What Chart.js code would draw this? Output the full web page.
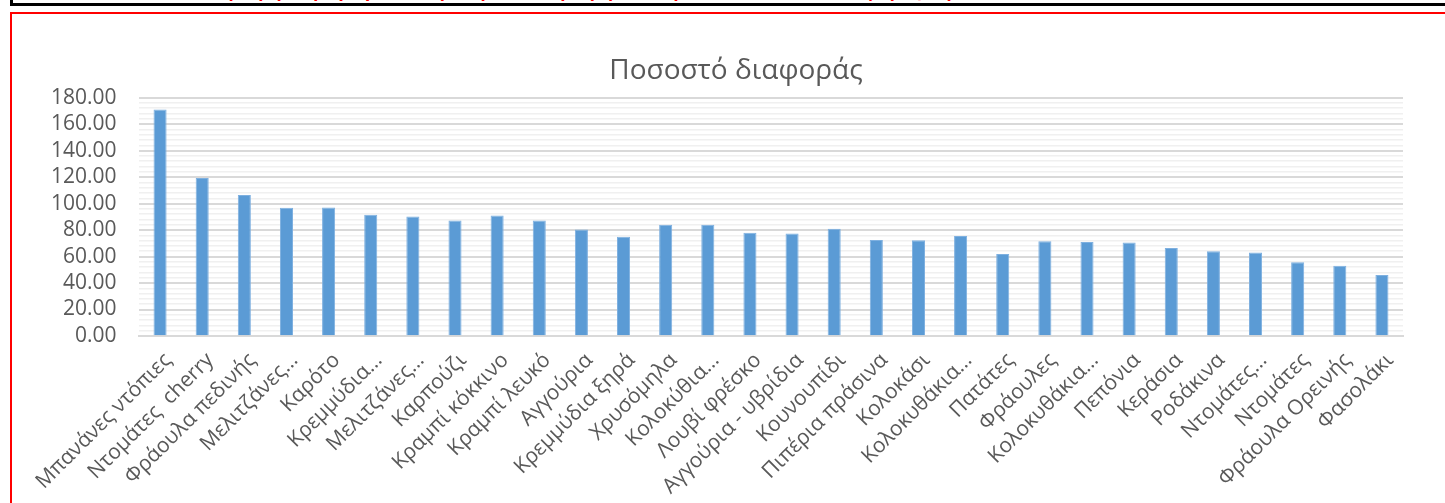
<!DOCTYPE html>
<html>
<head>
<meta charset="utf-8">
<script src="https://cdn.jsdelivr.net/npm/chart.js@4.4.1/dist/chart.umd.min.js"></script>
<style>
  body { margin: 0; background: #fff; overflow: hidden; width: 1445px; height: 503px; position: relative; }
  #topbox { position: absolute; left: 10px; top: -12px; width: 1500px; height: 12px; border: 3px solid #000; overflow: hidden; }
  #topbox span { position: absolute; top: -12.5px; left: 170px; color: #ff0000; font: bold 17px "Open Sans", sans-serif; letter-spacing: 1px; white-space: nowrap; }
  #frame { position: absolute; left: 10px; top: 12px; width: 1500px; height: 560px; border: 2px solid #ff0000; }
  #wrap { position: absolute; left: 12px; top: 14px; width: 1433px; height: 489px; }
</style>
</head>
<body>
<div id="topbox"><span>Μέση τιμή παραγωγού και μέση λιανική τιμή ανά προϊόν - ποσοστό διαφοράς τιμών</span></div>
<div id="frame"></div>
<div id="wrap"><canvas id="diffChart"></canvas></div>
<script>
const categories = [
  "Μπανάνες ντόπιες", "Ντομάτες  cherry", "Φράουλα πεδινής", "Μελιτζάνες…", "Καρότο",
  "Κρεμμύδια…", "Μελιτζάνες…", "Καρπούζι", "Κραμπί κόκκινο", "Κραμπί λευκό",
  "Αγγούρια", "Κρεμμύδια ξηρά", "Χρυσόμηλα", "Κολοκύθια…", "Λουβί φρέσκο",
  "Αγγούρια - υβρίδια", "Κουνουπίδι", "Πιπέρια πράσινα", "Κολοκάσι", "Κολοκυθάκια…",
  "Πατάτες", "Φράουλες", "Κολοκυθάκια…", "Πεπόνια", "Κεράσια",
  "Ροδάκινα", "Ντομάτες…", "Ντομάτες", "Φράουλα Ορεινής", "Φασολάκι"
];
const diffValues = [
  171.0, 119.3, 106.4, 96.8, 97.0,
  91.5, 90.2, 87.2, 91.0, 87.3,
  80.4, 75.0, 84.0, 84.0, 78.0,
  77.4, 81.0, 72.5, 72.3, 75.5,
  62.0, 71.5, 71.0, 70.6, 66.5,
  64.0, 63.0, 55.6, 53.0, 46.0
];
const axisMin = 0;
const axisMax = 180;
const majorStep = 20;
const minorStep = 4;

let chart;

function initChart() {
  const ctx = document.getElementById("diffChart").getContext("2d");

  chart = new Chart(ctx, {
    type: "bar",
    data: {
      labels: categories,
      datasets: [{
        label: "Ποσοστό διαφοράς",
        data: diffValues,
        backgroundColor: "#5b9bd5",
        borderColor: "#7eb0e0",
        borderWidth: 1,
        categoryPercentage: 1,
        barPercentage: 0.31
      }]
    },
    options: {
      responsive: true,
      maintainAspectRatio: false,
      animation: false,
      layout: { padding: { left: 57, right: 42, top: 40, bottom: 0 } },
      plugins: {
        legend: { display: false },
        tooltip: { enabled: false },
        title: {
          display: true,
          text: "Ποσοστό διαφοράς",
          color: "#595959",
          font: { family: "Open Sans", size: 28, weight: "normal" },
          padding: { top: 0, bottom: 10 }
        }
      },
      scales: {
        x: {
          grid: { display: false },
          border: { display: true, color: "#d9d9d9", width: 2 },
          ticks: {
            color: "#595959",
            font: { family: "Open Sans", size: 21 },
            minRotation: 45,
            maxRotation: 45,
            autoSkip: false,
            padding: 4,
            labelOffset: 8
          },
          afterFit: (scale) => { scale.height = 167; }
        },
        yMinor: {
          position: "left",
          min: axisMin,
          max: axisMax,
          ticks: { display: false, stepSize: minorStep },
          border: { display: false },
          grid: {
            drawTicks: false,
            lineWidth: 1.5,
            color: (c) => (c.tick && c.tick.value % majorStep === 0) ? "rgba(0,0,0,0)" : "#f0f0f0"
          },
          afterFit: (scale) => { scale.width = 0; }
        },
        y: {
          position: "left",
          min: axisMin,
          max: axisMax,
          ticks: {
            stepSize: majorStep,
            autoSkip: false,
            color: "#595959",
            font: { family: "Open Sans", size: 21 },
            mirror: true,
            crossAlign: "far",
            padding: -88,
            callback: (v) => Number(v).toFixed(2)
          },
          border: { display: false },
          grid: { drawTicks: false, color: "#d9d9d9", lineWidth: 2 },
          afterFit: (scale) => { scale.width = 70; }
        }
      }
    }
  });
}

initChart();
</script>
</body>
</html>
